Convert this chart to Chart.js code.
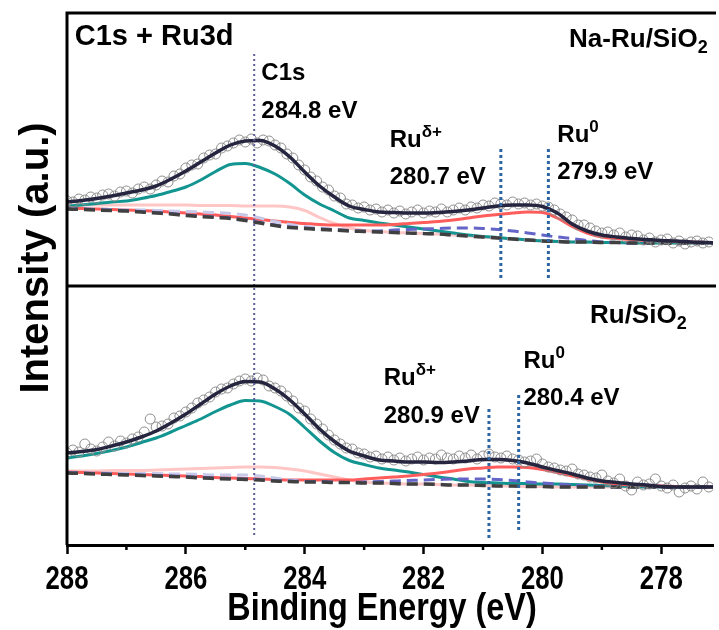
<!DOCTYPE html>
<html>
<head>
<meta charset="utf-8">
<script src="https://cdn.jsdelivr.net/npm/chart.js@4.4.1/dist/chart.umd.min.js"></script>
<style>
  html, body { margin: 0; padding: 0; background: #fff; }
  canvas { display: block; }
</style>
</head>
<body>
<canvas id="xps" width="719" height="630"></canvas>
<script>
// binding energy of the fitted curves (eV)
const fitE = [288, 287.75, 287.5, 287.25, 287, 286.75, 286.5, 286.25, 286, 285.75,
  285.5, 285.25, 285, 284.75, 284.5, 284.25, 284, 283.75, 283.5, 283.25,
  283, 282.75, 282.5, 282.25, 282, 281.75, 281.5, 281.25, 281, 280.75,
  280.5, 280.25, 280, 279.75, 279.5, 279.25, 279, 278.75, 278.5, 278.25,
  278, 277.75, 277.5, 277.25, 277];

// binding energy of the measured points (eV)
const dataE = [288.0, 287.9, 287.8, 287.7, 287.6, 287.5, 287.4, 287.3, 287.2, 287.1,
  287.0, 286.9, 286.8, 286.7, 286.6, 286.5, 286.4, 286.3, 286.2, 286.1,
  286.0, 285.9, 285.8, 285.7, 285.6, 285.5, 285.4, 285.3, 285.2, 285.1,
  285.0, 284.9, 284.8, 284.7, 284.6, 284.5, 284.4, 284.3, 284.2, 284.1,
  284.0, 283.9, 283.8, 283.7, 283.6, 283.5, 283.4, 283.3, 283.2, 283.1,
  283.0, 282.9, 282.8, 282.7, 282.6, 282.5, 282.4, 282.3, 282.2, 282.1,
  282.0, 281.9, 281.8, 281.7, 281.6, 281.5, 281.4, 281.3, 281.2, 281.1,
  281.0, 280.9, 280.8, 280.7, 280.6, 280.5, 280.4, 280.3, 280.2, 280.1,
  280.0, 279.9, 279.8, 279.7, 279.6, 279.5, 279.4, 279.3, 279.2, 279.1,
  279.0, 278.9, 278.8, 278.7, 278.6, 278.5, 278.4, 278.3, 278.2, 278.1,
  278.0, 277.9, 277.8, 277.7, 277.6, 277.5, 277.4, 277.3, 277.2];

// ---- Na-Ru/SiO2 (top panel), a.u.
const naRuRaw = [85, 84, 87, 86, 89, 88, 91, 92, 90, 94,
  95, 93, 97, 99, 97, 101, 105, 104, 110, 112,
  118, 121, 122, 128, 131, 132, 138, 140, 143, 146,
  144, 147, 143, 146, 145, 141, 138, 132, 128, 121,
  116, 109, 105, 99, 96, 90, 88, 82, 81, 78,
  79, 76, 77, 74, 76, 73, 75, 72, 74, 76,
  73, 75, 74, 77, 74, 76, 78, 76, 79, 78,
  81, 80, 83, 82, 81, 84, 82, 83, 81, 82,
  80, 79, 76, 72, 69, 66, 61, 61, 58, 55,
  53, 54, 51, 53, 49, 51, 50, 46, 48, 44,
  46, 47, 43, 45, 42, 44, 45, 43, 44];
const naRuSum = [84, 85.5, 87.5, 90, 93, 96, 100, 107, 115, 124,
  133, 141, 145, 145.5, 140, 129, 114, 100, 89, 80,
  76.5, 74, 73.5, 73, 73, 73.5, 74.5, 76, 78, 80,
  81, 81, 79.5, 73, 62, 55, 51, 49, 47.5, 46.5,
  45.5, 45, 44, 43.5, 43];
const naRuC = [80, 81, 82.5, 84, 85, 87.5, 90.5, 94.5, 99, 106,
  114.5, 121.5, 122.5, 118.5, 112, 102.5, 91, 82, 75, 68,
  65.5, 63, 61, 59, 57, 55, 53, 51, 49.5, 48.5,
  47.2, 46.2, 45.2, 44.6, 44, 44, 43.5, 43.5, 43, 43,
  43, 43, 43, 43, 43];
const naRuRu0 = [78, 77.5, 77, 76.5, 76, 75.5, 75, 74, 73, 72,
  71, 69.5, 68, 66.5, 65, 63.5, 62.5, 61.5, 61, 61,
  61, 61, 61.5, 62.5, 63.5, 64.5, 66, 68, 70, 71.5,
  73, 74, 73.5, 68, 59.5, 53, 49, 47.5, 46.5, 45.5,
  45, 44.5, 44, 43.5, 43];
const naRuRu0b = [81, 81, 81, 81, 81, 81, 81, 81, 81, 80.5,
  80.5, 80.5, 80, 80, 80, 79, 75.5, 68.5, 62.5, 58,
  55.5, 54.5, 53.5, 53, 52.5, 52, 51, 50, 49, 48,
  47, 46, 45, 44.5, 44, 44, 43.5, 43.5, 43, 43,
  43, 43, 43, 43, 43];
const naRuRud = [77.5, 77, 76.5, 76, 75.5, 74.5, 73.5, 72.5, 71, 70,
  69, 68, 66, 63.5, 61, 59, 58, 57, 56.5, 55.5,
  55, 55, 56, 56.5, 57, 57.5, 58, 58, 57.5, 56.5,
  55, 53, 51, 49, 47.5, 45.5, 44, 43.5, 43, 43,
  43, 43, 43, 43, 43];
const naRuRudb = [77.5, 77, 77, 76.5, 76, 76, 75.5, 75, 74.5, 74,
  73.5, 72.5, 71, 68, 64.5, 61.5, 59.5, 58, 56.5, 55.5,
  54.5, 54, 53.5, 53, 52.5, 52, 51, 50, 49, 48,
  47, 46, 45, 44.5, 44, 44, 43.5, 43.5, 43, 43,
  43, 43, 43, 43, 43];
const naRuBg = [77, 76.5, 76, 75.5, 75, 74, 73, 72, 70.5, 69.5,
  68.5, 67.5, 65.5, 63, 60.5, 58.5, 57.5, 56.5, 56, 55,
  54.5, 54, 53.5, 53, 52.5, 52, 51, 50, 49, 48,
  47, 46, 45, 44.5, 44, 44, 43.5, 43.5, 43, 43,
  43, 43, 43, 43, 43];

// ---- Ru/SiO2 (bottom panel), a.u.
const ruRaw = [92, 95, 93, 101, 96, 94, 98, 103, 99, 104,
  102, 106, 108, 113, 126, 118, 119, 121, 127, 129,
  133, 137, 142, 145, 148, 153, 156, 157, 161, 164,
  166, 164, 167, 165, 159, 157, 154, 149, 144, 137,
  134, 126, 121, 116, 110, 105, 101, 97, 96, 92,
  91, 88, 89, 86, 88, 85, 87, 84, 86, 88,
  85, 87, 86, 90, 87, 86, 89, 87, 90, 86,
  89, 91, 88, 87, 89, 86, 85, 83, 84, 86,
  81, 78, 77, 75, 74, 76, 71, 70, 68, 67,
  70, 64, 62, 66, 59, 55, 63, 60, 61, 66,
  59, 57, 60, 53, 57, 59, 56, 63, 58];
const ruSum = [92, 93.5, 95.5, 99, 103, 108, 114, 122, 131, 141,
  151, 159, 163.5, 163, 156, 145, 131, 116, 103.5, 94,
  89, 85, 84, 83, 83, 82.5, 83, 84, 85.5, 85.5,
  84.5, 82, 78, 74.5, 71, 67, 64, 62.5, 61, 60,
  58.5, 58, 58, 58, 58];
const ruC = [87, 89, 91.5, 94.5, 98, 102.5, 107, 113, 119.5, 126,
  133.5, 140, 144.5, 144, 138.5, 130.5, 117.5, 104, 92.5, 84.5,
  80.5, 77, 75, 73, 70.5, 68, 66, 63.5, 62.5, 62,
  61.5, 61.5, 61, 61, 60.5, 60, 59.5, 59, 58.5, 58,
  58, 58, 58, 58, 58];
const ruRu0 = [73, 72.5, 72, 71.5, 71, 70.5, 70, 69.5, 69, 68.5,
  67.5, 67, 66.5, 66, 65.5, 65, 65, 65, 65, 65,
  66, 67, 68, 69, 70.5, 72, 74, 76, 77, 78,
  78, 77.5, 75.5, 72.5, 69, 66, 63, 61, 60, 59.5,
  59, 58.5, 58, 58, 58];
const ruRu0b = [74, 74, 74, 74.5, 74.5, 74.5, 75, 75.5, 76, 76.5,
  77, 77.5, 78, 78, 77.5, 76, 74, 71, 68, 65,
  63, 62, 61.5, 61, 61, 60.5, 60, 60, 59.5, 59,
  59, 58.5, 58.5, 58, 58, 58, 58, 58, 58, 58,
  58, 58, 58, 58, 58];
const ruRud = [72.5, 72, 71.5, 71, 70.5, 70, 69.5, 69, 68.5, 67.5,
  67, 66.5, 66, 65.5, 64.5, 64, 63.5, 63.5, 63, 62.5,
  63, 63.5, 64, 64.5, 65, 65.5, 66, 66, 66, 65.5,
  64.5, 63, 62, 61, 60, 59, 58.5, 58, 58, 58,
  58, 58, 58, 58, 58];
const ruRudb = [72.5, 72, 72, 72, 71.5, 71.5, 71.5, 71, 71, 70.5,
  70, 70, 70, 69, 67, 65, 63.5, 63, 62.5, 62.5,
  62, 62, 61.5, 61, 61, 60.5, 60, 60, 59.5, 59,
  59, 58.5, 58.5, 58, 58, 58, 58, 58, 58, 58,
  58, 58, 58, 58, 58];
const ruBg = [72, 71.5, 71, 70.5, 70, 69.5, 69, 68.5, 68, 67,
  66.5, 66, 65.5, 65, 64, 63.5, 63, 63, 62.5, 62.5,
  62, 62, 61.5, 61, 61, 60.5, 60, 60, 59.5, 59,
  59, 58.5, 58.5, 58, 58, 58, 58, 58, 58, 58,
  58, 58, 58, 58, 58];

// peak positions marked by dotted lines (eV)
const c1sPos = 284.85;
const naRuPeaks = [280.7, 279.9];
const ruPeaks = [280.9, 280.4];

const xy = (xs, ys) => xs.map((x, i) => ({ x: x, y: ys[i] }));

function fit(data, axis, color, width, dash) {
  return {
    type: 'line', data: xy(fitE, data), yAxisID: axis,
    borderColor: color, borderWidth: width, borderDash: dash || [],
    pointRadius: 0, cubicInterpolationMode: 'monotone', fill: false
  };
}
function raw(data, axis) {
  return {
    type: 'scatter', data: xy(dataE, data), yAxisID: axis,
    pointRadius: 5, pointBorderWidth: 1, borderColor: '#8e8e8e',
    backgroundColor: 'rgba(255,255,255,0)', showLine: false
  };
}
function vline(e, lo, hi, axis, color, width, dash) {
  return {
    type: 'line', data: [{ x: e, y: lo }, { x: e, y: hi }], yAxisID: axis,
    borderColor: color, borderWidth: width, borderDash: dash,
    pointRadius: 0, fill: false
  };
}

const NAVY = '#25253f', TEAL = '#129590', RED = '#ff5c5c', PINK = '#ffc6c6';
const LAV = '#c8c8e8', BLUE = '#6565c9', BG = '#404040';
const C1S_LINE = '#5d5d9c', RU_LINE = '#2c66a4';
const DASH = [11, 6];

const datasets = [
  vline(c1sPos, 0, 234, 'yTop', C1S_LINE, 2, [2, 3]),
  vline(c1sPos, 10, 259, 'yBot', C1S_LINE, 2, [2, 3]),
  vline(naRuPeaks[0], 8, 138, 'yTop', RU_LINE, 3, [3, 3]),
  vline(naRuPeaks[1], 8, 138, 'yTop', RU_LINE, 3, [3, 3]),
  vline(ruPeaks[0], 7, 137, 'yBot', RU_LINE, 3, [3, 3]),
  vline(ruPeaks[1], 15, 153, 'yBot', RU_LINE, 3, [3, 3]),

  fit(naRuSum, 'yTop', NAVY, 3.5),
  raw(naRuRaw, 'yTop'),
  fit(naRuBg, 'yTop', BG, 3.5, DASH),
  fit(naRuRud, 'yTop', BLUE, 3, DASH),
  fit(naRuRudb, 'yTop', LAV, 3, DASH),
  fit(naRuRu0, 'yTop', RED, 3),
  fit(naRuC, 'yTop', TEAL, 3),
  fit(naRuRu0b, 'yTop', PINK, 3),

  fit(ruSum, 'yBot', NAVY, 3.5),
  raw(ruRaw, 'yBot'),
  fit(ruBg, 'yBot', BG, 3.5, DASH),
  fit(ruRud, 'yBot', BLUE, 3, DASH),
  fit(ruRudb, 'yBot', LAV, 3, DASH),
  fit(ruRu0, 'yBot', RED, 3),
  fit(ruC, 'yBot', TEAL, 3),
  fit(ruRu0b, 'yBot', PINK, 3)
];

const SANS = "'Liberation Sans', Arial, sans-serif";

// text placed in data units of each panel
const notes = [
  { axis: 'yTop', e: 287.87, v: 241, parts: [['C1s + Ru3d', 29]] },
  { axis: 'yTop', e: 277.22, v: 239, align: 'right', parts: [['Na-Ru/SiO', 26], ['2', 18, 6]] },
  { axis: 'yTop', e: 284.73, v: 206, parts: [['C1s', 24]] },
  { axis: 'yTop', e: 284.73, v: 168, parts: [['284.8 eV', 24]] },
  { axis: 'yTop', e: 282.57, v: 139, parts: [['Ru', 24], ['\u03B4+', 17, -10]] },
  { axis: 'yTop', e: 282.57, v: 102, parts: [['280.7 eV', 24]] },
  { axis: 'yTop', e: 279.75, v: 144, parts: [['Ru', 24], ['0', 17, -10]] },
  { axis: 'yTop', e: 279.75, v: 107, parts: [['279.9 eV', 24]] },
  { axis: 'yBot', e: 279.2, v: 222, parts: [['Ru/SiO', 26], ['2', 18, 6]] },
  { axis: 'yBot', e: 282.67, v: 160, parts: [['Ru', 24], ['\u03B4+', 17, -10]] },
  { axis: 'yBot', e: 282.67, v: 122, parts: [['280.9 eV', 24]] },
  { axis: 'yBot', e: 280.32, v: 177, parts: [['Ru', 24], ['0', 17, -10]] },
  { axis: 'yBot', e: 280.32, v: 140, parts: [['280.4 eV', 24]] }
];

// condensed text, like the figure's tick labels and x title
function squeezed(ctx, text, x, y, size, sx) {
  ctx.save();
  ctx.translate(x, y);
  ctx.scale(sx, 1);
  ctx.font = 'bold ' + size + 'px ' + SANS;
  ctx.textAlign = 'center';
  ctx.fillText(text, 0, 0);
  ctx.restore();
}

const decorations = {
  id: 'decorations',
  afterDraw(chart) {
    const { ctx, chartArea: a, scales } = chart;
    ctx.save();
    // panel frames
    ctx.strokeStyle = '#000';
    ctx.lineWidth = 3;
    ctx.beginPath();
    ctx.moveTo(a.left, a.bottom);
    ctx.lineTo(a.left, a.top);
    ctx.lineTo(a.right + 3, a.top);
    ctx.moveTo(a.left, scales.yBot.top);
    ctx.lineTo(a.right + 3, scales.yBot.top);
    ctx.stroke();
    // short minor ticks at odd energies, labels at even ones
    ctx.lineWidth = 2.5;
    ctx.fillStyle = '#000';
    ctx.beginPath();
    scales.x.ticks.forEach(t => {
      const v = Math.round(t.value);
      const px = scales.x.getPixelForValue(t.value);
      if (v % 2 !== 0) {
        ctx.moveTo(px, a.bottom);
        ctx.lineTo(px, a.bottom + 5);
      } else {
        squeezed(ctx, String(v), px, a.bottom + 44, 33, 0.78);
      }
    });
    ctx.stroke();

    // annotations
    ctx.textBaseline = 'alphabetic';
    ctx.textAlign = 'left';
    notes.forEach(n => {
      let x = scales.x.getPixelForValue(n.e);
      const y = scales[n.axis].getPixelForValue(n.v);
      if (n.align === 'right') {
        let w = 0;
        n.parts.forEach(p => { ctx.font = 'bold ' + p[1] + 'px ' + SANS; w += ctx.measureText(p[0]).width; });
        x -= w;
      }
      n.parts.forEach(p => {
        ctx.font = 'bold ' + p[1] + 'px ' + SANS;
        ctx.fillText(p[0], x, y + (p[2] || 0));
        x += ctx.measureText(p[0]).width;
      });
    });

    // axis titles
    squeezed(ctx, 'Binding Energy (eV)', 382, 620, 39, 0.83);
    ctx.translate(48, 258);
    ctx.rotate(-Math.PI / 2);
    ctx.font = 'bold 40px ' + SANS;
    ctx.textAlign = 'center';
    ctx.fillText('Intensity (a.u.)', 0, 0);
    ctx.restore();
  }
};

const hiddenY = { display: false };

new Chart(document.getElementById('xps'), {
  data: { datasets: datasets },
  options: {
    responsive: false,
    animation: false,
    devicePixelRatio: 1,
    layout: { padding: { left: 67, top: 13, right: 0, bottom: 0 } },
    plugins: { legend: { display: false }, tooltip: { enabled: false } },
    scales: {
      x: {
        type: 'linear', reverse: true, min: 277.13, max: 288,
        afterFit: s => { s.height = 85; },
        border: { display: true, color: '#000', width: 3 },
        grid: {
          display: true, drawOnChartArea: false, tickLength: 9, tickWidth: 2.5,
          tickColor: c => (c.tick && Math.round(c.tick.value) % 2 === 0) ? '#000' : 'rgba(0,0,0,0)'
        },
        ticks: { stepSize: 1, includeBounds: false, autoSkip: false, display: false }
      },
      // the bottom panel is listed first: left-hand stacks are laid out in reverse order
      yBot: {
        type: 'linear', position: 'left', stack: 'panels', stackWeight: 259,
        min: 0, max: 259, afterFit: s => { s.width = 0; },
        ticks: hiddenY, grid: hiddenY, border: hiddenY
      },
      yTop: {
        type: 'linear', position: 'left', stack: 'panels', stackWeight: 273,
        min: 0, max: 273, afterFit: s => { s.width = 0; },
        ticks: hiddenY, grid: hiddenY, border: hiddenY
      }
    }
  },
  plugins: [decorations]
});
</script>
</body>
</html>
